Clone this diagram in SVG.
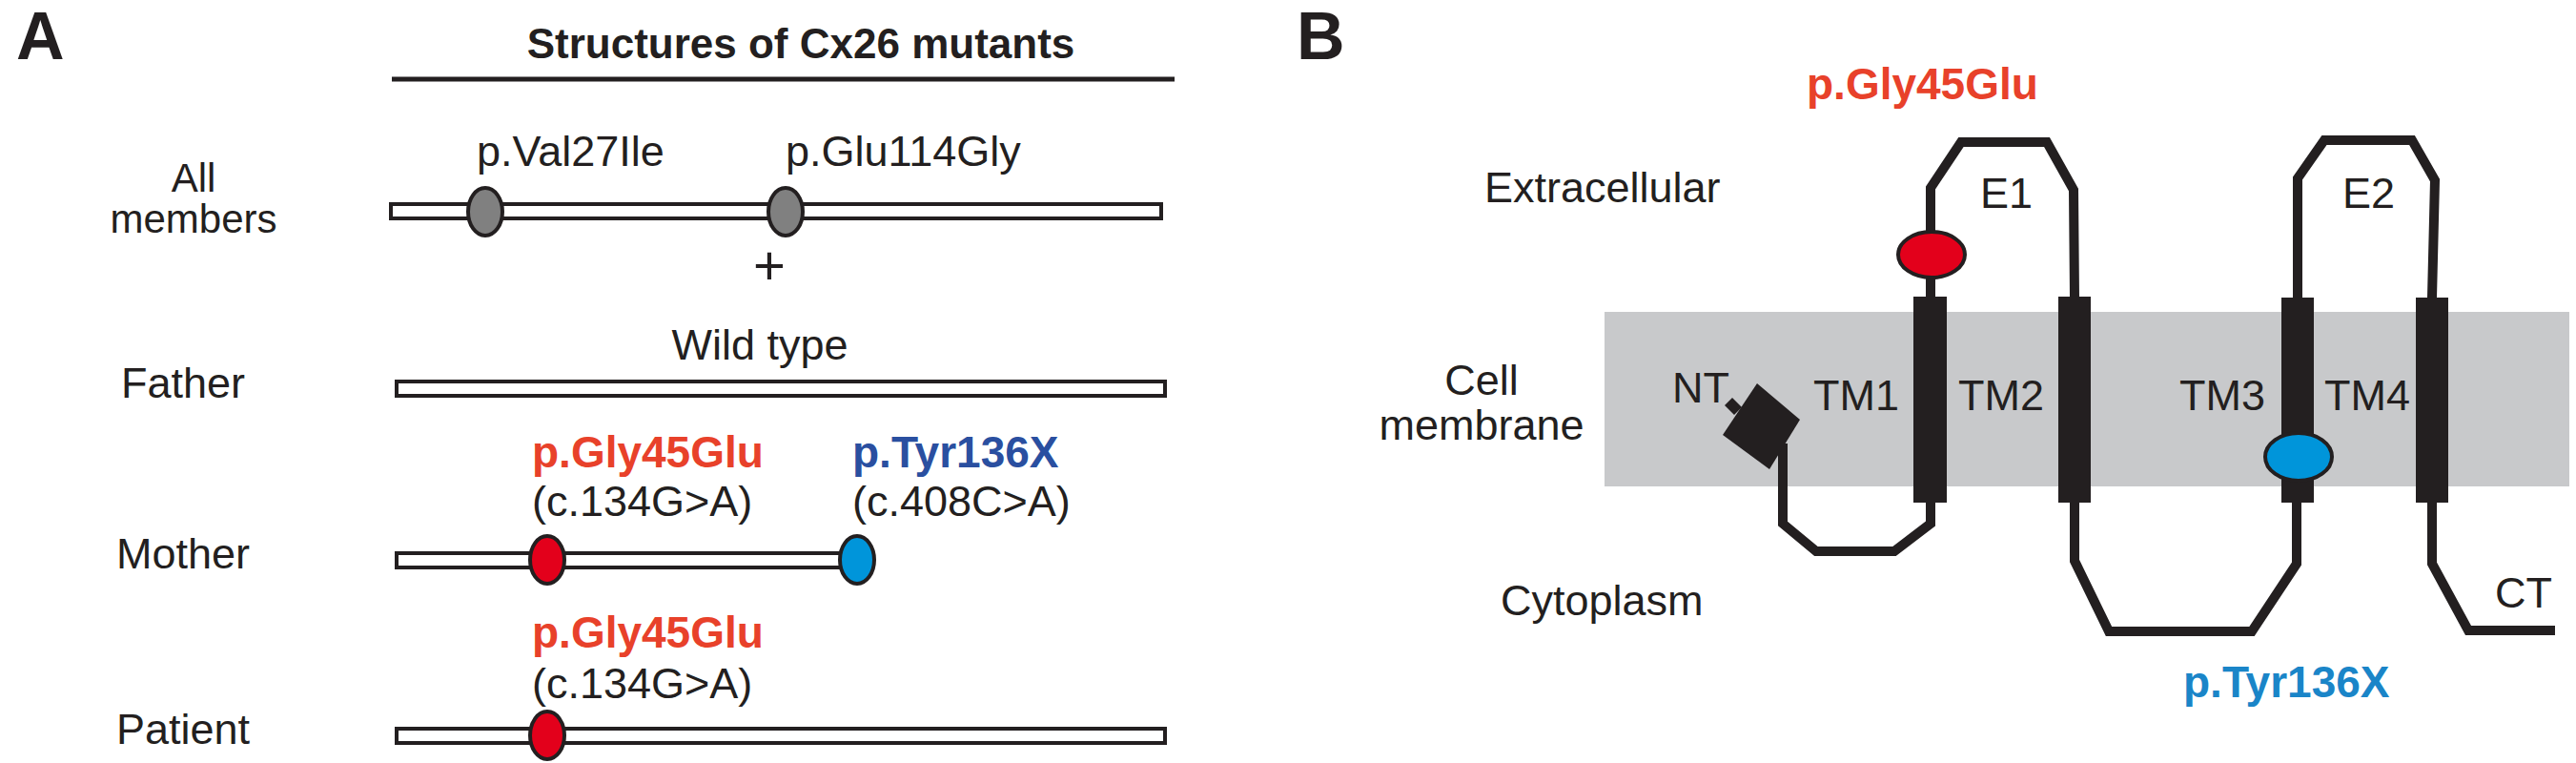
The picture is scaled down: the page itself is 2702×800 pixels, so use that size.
<svg xmlns="http://www.w3.org/2000/svg" width="2702" height="800" viewBox="0 0 2702 800">
<style>
text{font-family:"Liberation Sans",Arial,sans-serif;fill:#231f20}
.r{font-size:45px}
.b{font-size:46px;font-weight:bold}
.red{fill:#e8412a}
.blue{fill:#2a4fa0}
.blue2{fill:#1a85c8}
.bar{fill:#fff;stroke:#231f20;stroke-width:4}
.gm{fill:#808080;stroke:#231f20;stroke-width:4}
.rm{fill:#e3001b;stroke:#231f20;stroke-width:4}
.bm{fill:#0095da;stroke:#231f20;stroke-width:4}
.tm{fill:#231f20}
.ln{fill:none;stroke:#231f20;stroke-width:10;stroke-linejoin:miter}
</style>
<g id="panelA">
<text x="17" y="62" style="font-size:70px;font-weight:bold">A</text>
<text x="840" y="61" text-anchor="middle" style="font-size:44px;font-weight:bold">Structures of Cx26 mutants</text>
<line x1="411" y1="83" x2="1232" y2="83" stroke="#231f20" stroke-width="5"/>
<g id="allmembers">
<text x="203" y="201" text-anchor="middle" style="font-size:42px">All</text>
<text x="203" y="244" text-anchor="middle" style="font-size:42px">members</text>
<rect x="410" y="214" width="808" height="15" class="bar"/>
<ellipse cx="509" cy="222" rx="18" ry="25" class="gm"/>
<ellipse cx="824" cy="222" rx="18" ry="25" class="gm"/>
<text x="500" y="174" class="r">p.Val27Ile</text>
<text x="824" y="174" class="r">p.Glu114Gly</text>
<text x="807" y="298" text-anchor="middle" style="font-size:58px">+</text>
</g>
<g id="father">
<text x="192" y="417" class="r" text-anchor="middle">Father</text>
<text x="797" y="377" class="r" text-anchor="middle">Wild type</text>
<rect x="416" y="400" width="806" height="15" class="bar"/>
</g>
<g id="mother">
<text x="192" y="596" class="r" text-anchor="middle">Mother</text>
<text x="558" y="490" class="b red">p.Gly45Glu</text>
<text x="558" y="541" class="r">(c.134G&gt;A)</text>
<text x="894" y="490" class="b blue">p.Tyr136X</text>
<text x="894" y="541" class="r">(c.408C&gt;A)</text>
<rect x="416" y="580" width="483" height="15" class="bar"/>
<ellipse cx="574" cy="587" rx="18" ry="25" class="rm"/>
<ellipse cx="899" cy="587" rx="18" ry="25" class="bm"/>
</g>
<g id="patient">
<text x="192" y="780" class="r" text-anchor="middle">Patient</text>
<text x="558" y="679" class="b red">p.Gly45Glu</text>
<text x="558" y="732" class="r">(c.134G&gt;A)</text>
<rect x="416" y="764" width="806" height="15" class="bar"/>
<ellipse cx="574" cy="771" rx="18" ry="25" class="rm"/>
</g>
</g>
<g id="panelB">
<text x="1360" y="62" style="font-size:70px;font-weight:bold">B</text>
<rect id="membrane" x="1683" y="327" width="1012" height="183" fill="#c8c9cb"/>
<text x="1557" y="212" class="r">Extracellular</text>
<text x="1554" y="414" class="r" text-anchor="middle">Cell</text>
<text x="1554" y="461" class="r" text-anchor="middle">membrane</text>
<text x="1574" y="645" class="r">Cytoplasm</text>
<g id="connectors">
<polyline class="ln" points="2025,311 2025,197 2057,149 2147,149 2175,199 2176,311"/>
<polyline class="ln" points="2410,312 2410,187 2438,147 2530,147 2554,189 2551,312"/>
<polyline class="ln" points="2025,527 2025,549 1987,578 1905,578 1870,549 1870,465"/>
<polyline class="ln" points="2176,527 2176,588 2212,662 2362,662 2409,591 2409,527"/>
<polyline class="ln" points="2551,527 2551,591 2589,661 2680,661"/>
</g>
<g id="NT">
<polygon class="tm" points="1843,402 1888,440 1856,492 1807,456"/>
<polygon class="tm" points="1809,425 1817,417 1827,427 1819,435"/>
<text x="1754" y="422" class="r">NT</text>
</g>
<g id="TM1"><rect x="2007" y="311" width="35" height="216" class="tm"/><text x="1902" y="430" class="r">TM1</text></g>
<g id="TM2"><rect x="2159" y="311" width="34" height="216" class="tm"/><text x="2054" y="430" class="r">TM2</text></g>
<g id="TM3"><rect x="2393" y="312" width="34" height="215" class="tm"/><text x="2286" y="430" class="r">TM3</text></g>
<g id="TM4"><rect x="2534" y="312" width="34" height="215" class="tm"/><text x="2438" y="430" class="r">TM4</text></g>
<text x="2077" y="218" class="r">E1</text>
<text x="2457" y="218" class="r">E2</text>
<text x="2617" y="637" class="r">CT</text>
<g id="mut1">
<ellipse cx="2026" cy="267" rx="35" ry="24" class="rm"/>
<text x="1895" y="104" class="b red">p.Gly45Glu</text>
</g>
<g id="mut2">
<ellipse cx="2411" cy="479" rx="35" ry="25" class="bm"/>
<text x="2290" y="731" class="b blue2">p.Tyr136X</text>
</g>
</g>
</svg>
